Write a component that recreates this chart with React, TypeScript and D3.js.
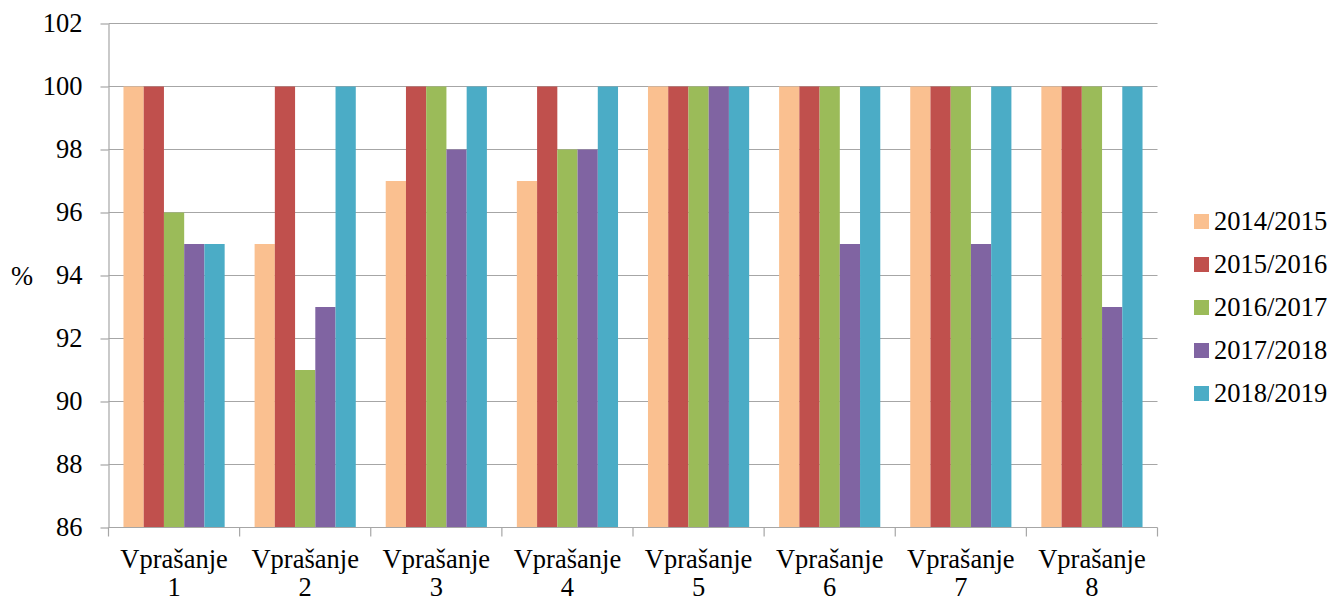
import { useEffect, useRef } from 'react';
import * as d3 from 'd3';

const categories = ['1', '2', '3', '4', '5', '6', '7', '8'];
const seriesNames = ['2014/2015', '2015/2016', '2016/2017', '2017/2018', '2018/2019'];
const s2014 = [100, 95, 97, 97, 100, 100, 100, 100];
const s2015 = [100, 100, 100, 100, 100, 100, 100, 100];
const s2016 = [96, 91, 100, 98, 100, 100, 100, 100];
const s2017 = [95, 93, 98, 98, 100, 95, 95, 93];
const s2018 = [95, 100, 100, 100, 100, 100, 100, 100];
const yTicks = [86, 88, 90, 92, 94, 96, 98, 100, 102];
const seriesColors = ['#FAC090', '#C0504D', '#9BBB59', '#8064A2', '#4BACC6'];

const App = (): JSX.Element => {
  const svgRef = useRef<SVGSVGElement>(null);

  useEffect(() => {
    const width = 1331;
    const height = 601;
    const margin = { top: 23.5, right: 173.5, bottom: 73.5, left: 108.5 };
    const font = "'Liberation Serif', 'Times New Roman', serif";
    const fontSize = 26.5;
    const allSeries = [s2014, s2015, s2016, s2017, s2018];

    const svg = d3.select(svgRef.current)
      .attr('width', width)
      .attr('height', height)
      .style('font-family', font);
    svg.selectAll('*').remove();

    const x0 = d3.scaleBand<string>()
      .domain(categories)
      .range([margin.left, width - margin.right])
      .paddingInner(0)
      .paddingOuter(0);

    const x1 = d3.scaleBand<number>()
      .domain(d3.range(seriesNames.length))
      .range([0, x0.bandwidth()])
      .paddingOuter(0.74)
      .paddingInner(0);

    const y = d3.scaleLinear()
      .domain([86, 102])
      .range([height - margin.bottom, margin.top]);

    // grid
    svg.append('g')
      .selectAll('line')
      .data(yTicks.slice(1))
      .enter()
      .append('line')
      .attr('x1', margin.left)
      .attr('x2', width - margin.right)
      .attr('y1', d => y(d))
      .attr('y2', d => y(d))
      .attr('stroke', '#a6a6a6')
      .attr('stroke-width', 1.2);

    // bars
    const groups = svg.append('g')
      .selectAll('g')
      .data(categories)
      .enter()
      .append('g')
      .attr('transform', d => `translate(${x0(d)},0)`);

    groups.selectAll('rect')
      .data((_d, i) => allSeries.map((s, k) => ({ k, v: s[i] })))
      .enter()
      .append('rect')
      .attr('x', d => x1(d.k) as number)
      .attr('width', x1.bandwidth())
      .attr('y', d => y(d.v))
      .attr('height', d => y(86) - y(d.v))
      .attr('fill', d => seriesColors[d.k]);

    // y axis
    const yAxis = svg.append('g')
      .attr('transform', `translate(${margin.left},0)`)
      .call(d3.axisLeft(y).tickValues(yTicks).tickSize(8).tickSizeOuter(0).tickPadding(18));
    yAxis.attr('font-family', null);
    yAxis.selectAll('line, path').attr('stroke', '#a6a6a6').attr('stroke-width', 1.2);
    yAxis.selectAll('text')
      .style('font-family', font)
      .attr('font-size', fontSize)
      .attr('fill', '#000');

    // x axis
    const xAxisY = y(86);
    svg.append('line')
      .attr('x1', margin.left)
      .attr('x2', width - margin.right)
      .attr('y1', xAxisY)
      .attr('y2', xAxisY)
      .attr('stroke', '#a6a6a6')
      .attr('stroke-width', 1.2);

    const boundaries = categories.map(c => x0(c) as number).concat([width - margin.right]);
    svg.append('g')
      .selectAll('line')
      .data(boundaries)
      .enter()
      .append('line')
      .attr('x1', d => d)
      .attr('x2', d => d)
      .attr('y1', xAxisY)
      .attr('y2', xAxisY + 9)
      .attr('stroke', '#a6a6a6')
      .attr('stroke-width', 1.2);

    const labels = svg.append('g')
      .selectAll('text')
      .data(categories)
      .enter()
      .append('text')
      .style('font-family', font)
      .attr('font-size', fontSize)
      .attr('text-anchor', 'middle');
    labels.append('tspan')
      .attr('x', d => (x0(d) as number) + x0.bandwidth() / 2)
      .attr('y', 568)
      .text('Vprašanje');
    labels.append('tspan')
      .attr('x', d => (x0(d) as number) + x0.bandwidth() / 2)
      .attr('y', 596)
      .text(d => d);

    svg.append('text')
      .attr('x', 22)
      .attr('y', 285)
      .attr('text-anchor', 'middle')
      .style('font-family', font)
      .attr('font-size', fontSize)
      .text('%');

    // legend
    const legend = svg.append('g')
      .selectAll('g')
      .data(seriesNames)
      .enter()
      .append('g')
      .attr('transform', (_d, i) => `translate(1194,${221.5 + i * 43})`);
    legend.append('rect')
      .attr('x', 0)
      .attr('y', -7.5)
      .attr('width', 15)
      .attr('height', 15)
      .attr('fill', (_d, i) => seriesColors[i]);
    legend.append('text')
      .attr('x', 20)
      .attr('y', 8)
      .style('font-family', font)
      .attr('font-size', fontSize)
      .text(d => d);
  }, []);

  return <svg ref={svgRef} style={{ position: 'absolute', left: 0, top: 0 }} />;
};

export default App;
